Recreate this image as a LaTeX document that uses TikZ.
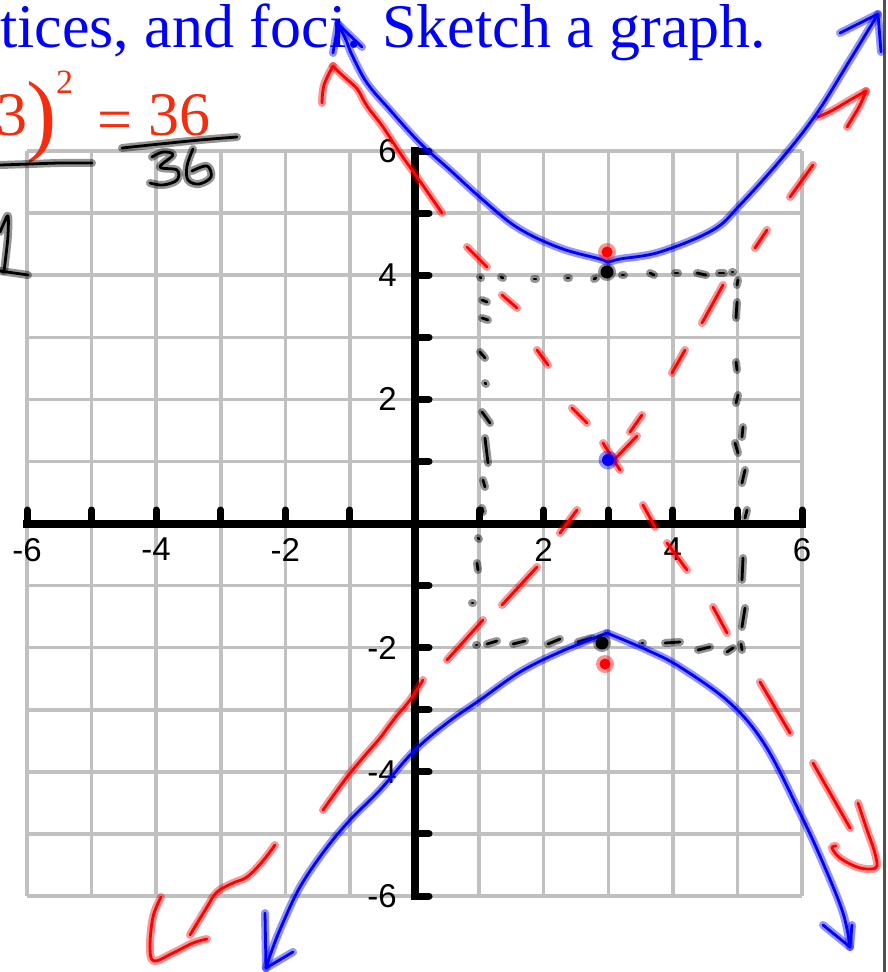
\documentclass[tikz,border=0pt]{standalone}
\usepackage{fontspec}
\setmainfont{Liberation Serif}
\newfontfamily\sansf{Liberation Sans}
\definecolor{txtred}{RGB}{245,45,15}
\definecolor{gridgray}{RGB}{192,192,192}
\definecolor{framegray}{RGB}{80,80,80}
\begin{document}
\begin{tikzpicture}[x=1pt,y=-1pt,
  gridl/.style={draw=gridgray, line width=3.5pt},
  axisl/.style={draw=black, line width=8pt},
  tickl/.style={draw=black, line width=7pt, line cap=round},
  lbl/.style={inner sep=0pt, font=\sansf\fontsize{33}{33}\selectfont},
  inkline/.style={line cap=round, line join=round, line width=2.8pt, draw=#1,
     preaction={draw=#1, draw opacity=0.42, line width=8pt, line cap=round, line join=round}},
  redtxt/.style={anchor=base west, inner sep=0pt, text=txtred},
]
\useasboundingbox (0,0) rectangle (888,972);
\fill[white] (0,0) rectangle (888,972);

% grid
\foreach \i in {0,...,12} {
  \draw[gridl] ({27+64.583*\i},151) -- ({27+64.583*\i},896);
  \draw[gridl] (27,{151+62.083*\i}) -- (802,{151+62.083*\i});
}
% axes
\draw[axisl] (23,523.5) -- (806,523.5);
\draw[axisl] (414.5,147) -- (414.5,900);
\foreach \i in {-6,...,-1,1,2,...,6} {
  \draw[tickl] ({414.5+64.583*\i},523.5) -- ({414.5+64.583*\i},510);
  \draw[tickl] (414.5,{523.5-62.083*\i}) -- (429,{523.5-62.083*\i});
}
\foreach \v in {-6,-4,-2,2,4,6} {
  \node[lbl, anchor=north] (xl\v) at ({414.5+64.583*\v},538) {\v};
  \node[lbl, anchor=east] (yl\v) at (397,{523.5-62.083*\v}) {\v};
}

% frame line at right
\draw[framegray, line width=3.5pt] (884.5,0) -- (884.5,972);

% title text
\node[anchor=base west, inner sep=0pt, text=blue, font=\fontsize{62}{62}\selectfont] (title) at (0,47) {tices, and foci. Sketch a graph.};

% red equation fragment
\node[redtxt, font=\fontsize{62}{62}\selectfont] (r3) at (-4,135) {3};
\node[redtxt, font=\fontsize{91}{91}\selectfont] (rpar) at (26,144) {)};
\node[redtxt, font=\fontsize{34}{34}\selectfont] (rsup) at (56,93) {2};
\node[redtxt, font=\fontsize{62}{62}\selectfont] (req) at (97,140) {=};
\node[redtxt, font=\fontsize{62}{62}\selectfont] (r36) at (148,135) {36};

% black handwriting
\draw[inkline=black] plot[smooth, tension=0.6] coordinates {(0,165) (30,164) (60,163) (92,163)};
\draw[inkline=black] plot[smooth, tension=0.6] coordinates {(0,232) (4,223) (8,216) (8,235) (6,255) (4,271)};
\draw[inkline=black] (0,271) -- (28,275);
\draw[inkline=black] plot[smooth, tension=0.6] coordinates {(122,148) (160,144) (200,140) (237,137)};
\draw[inkline=black] plot[smooth, tension=0.6] coordinates {(152,157) (163,152) (173,155) (160,167) (177,170) (177,180) (163,185) (150,183)};
\draw[inkline=black] plot[smooth, tension=0.6] coordinates {(193,149) (187,166) (188,180) (199,184) (211,177) (207,166) (192,171)};

% dotted box (hand drawn dashes)
\foreach \xa/\ya/\xb/\yb in {
  480/277/481/278, 501/277/503/278, 534/279/536/279, 567/278/569/278, 594/279/596/278,
  622/275/624/275, 650/273/654/275, 675/273/678/273, 697/273/706/275, 719/273/724/273, 732/272/733/272,
  482/300/487/302, 482/318/488/320, 480/352/485/358, 485/383/486/384, 482/412/490/423,
  485/438/488/463, 483/480/485/487, 482/508/483/512, 478/538/479/539, 477/563/478/570, 472/603/473/603,
  476/645/477/645, 487/644/497/641, 513/644/525/641, 548/644/560/639, 578/642/592/638,
  642/643/643/643, 665/643/680/642, 698/650/710/647, 727/652/733/648, 741/644/742/650,
  738/280/737/285, 737/302/736/318, 736/362/737/370, 738/395/736/403, 743/427/742/437,
  735/443/738/453, 745/470/742/483, 747/510/745/518, 743/558/742/580, 745/608/742/627}
  \draw[inkline=black] (\xa,\ya) -- (\xb,\yb);

% red asymptote 1 (upper left to lower right)
\draw[inkline=red] plot[smooth, tension=0.6] coordinates {(322,103) (324,85) (333,66)};
\draw[inkline=red] plot[smooth, tension=0.6] coordinates {(333,66) (341,74) (350,82) (358,90) (367,106) (383,127) (400,153) (417,177) (442,213)};
\foreach \xa/\ya/\xb/\yb in {467/247/487/267, 502/295/517/308, 537/350/548/365, 572/408/587/423,
  603/443/620/470, 643/505/655/527, 667/543/687/570, 713/607/727/633, 760/682/790/733, 813/763/850/828}
  \draw[inkline=red] (\xa,\ya) -- (\xb,\yb);
\draw[inkline=red] plot[smooth, tension=0.6] coordinates {(858,803) (867,830) (874,850) (877,866) (870,869) (857,867) (840,858) (832,848) (836,846)};

% red asymptote 2 (lower left to upper right)
\draw[inkline=red] plot[smooth, tension=0.6] coordinates {(818,117) (833,110) (850,100) (866,91)};
\draw[inkline=red] plot[smooth, tension=0.6] coordinates {(866,91) (860,105) (853,117) (847,127)};
\foreach \xa/\ya/\xb/\yb in {813/165/790/197, 767/230/755/248, 723/285/702/323, 685/350/672/373,
  642/415/630/432, 637/436/612/462, 577/510/560/533, 537/567/502/605, 483/620/447/660}
  \draw[inkline=red] (\xa,\ya) -- (\xb,\yb);
\draw[inkline=red] plot[smooth, tension=0.6] coordinates {(423,680) (410,700) (395,718) (380,738) (367,753) (347,777) (323,810)};
\draw[inkline=red] plot[smooth, tension=0.6] coordinates {(275,845) (262,862) (247,877) (233,883) (217,892) (207,907) (190,935)};
\draw[inkline=red] plot[smooth, tension=0.6] coordinates {(161,897) (153,917) (150,947) (154,961) (173,953) (193,943) (207,939)};

% blue hyperbola, upper branch
\draw[inkline=blue] plot[smooth, tension=0.6] coordinates {(338,24) (346,40) (352,55) (367,83) (390,110) (420,143) (450,170) (483,200) (518,228) (560,248) (600,259) (608,262) (620,259) (660,252) (713,230) (740,205) (783,157) (817,113) (850,60) (878,14)};
\draw[inkline=blue] (333,53) -- (338,24) -- (362,47);
\draw[inkline=blue] (840,33) -- (878,14) -- (881,52);
% blue hyperbola, lower branch
\draw[inkline=blue] plot[smooth, tension=0.6] coordinates {(266,968) (272,950) (282,925) (300,887) (325,850) (350,820) (380,790) (413,752) (447,723) (480,700) (520,672) (560,652) (607,633)};
\draw[inkline=blue] plot[smooth, tension=0.6] coordinates {(607,633) (647,650) (680,667) (730,703) (765,745) (800,813) (823,863) (843,913) (850,947)};
\draw[inkline=blue] (265,913) -- (266,968) -- (293,952);
\draw[inkline=blue] (823,925) -- (850,947) -- (852,925);

% vertices, foci, center
\fill[black, opacity=0.4] (607,272) circle (9);
\fill[black] (607,272) circle (6.5);
\fill[black, opacity=0.4] (602,643) circle (9);
\fill[black] (602,643) circle (6.5);
\fill[red, opacity=0.42] (607,252) circle (9);
\fill[red] (607,252) circle (5.5);
\fill[red, opacity=0.42] (605,664) circle (9);
\fill[red] (605,664) circle (5.5);
\fill[blue, opacity=0.42] (608,460) circle (9.5);
\fill[blue] (608,460) circle (6);
\end{tikzpicture}
\end{document}
